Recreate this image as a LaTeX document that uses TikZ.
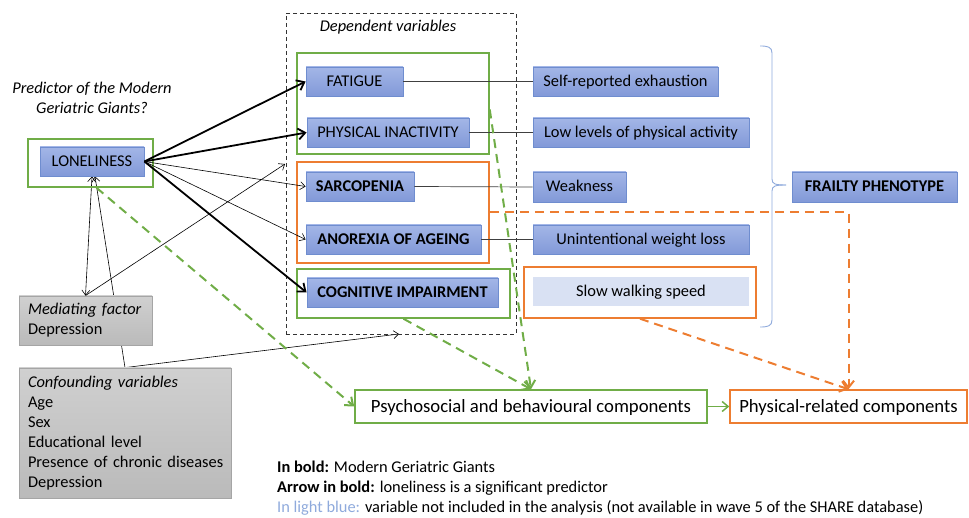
\documentclass[tikz,border=0pt]{standalone}
\usepackage{fontspec}
\setmainfont{Carlito}
\usetikzlibrary{arrows.meta,calc}
\pgfdeclarelayer{bg}
\pgfsetlayers{bg,main}
\definecolor{gr}{HTML}{70AD47}
\definecolor{orn}{HTML}{ED7D31}
\definecolor{bluetop}{HTML}{A3B6E7}
\definecolor{bluebot}{HTML}{8299D8}
\definecolor{bluedraw}{HTML}{6F8DCF}
\definecolor{lightb}{HTML}{D9E1F3}
\definecolor{legb}{HTML}{8FAADC}
\definecolor{graytop}{HTML}{D0D0D0}
\definecolor{graybot}{HTML}{BABABA}
\definecolor{graydraw}{HTML}{A5A5A5}
\definecolor{linkc}{HTML}{404040}
\tikzset{
  bluebox/.style={draw=bluedraw, line width=0.8pt, top color=bluetop, bottom color=bluebot, inner sep=0pt, text height=12pt, text depth=2pt},
  lbluebox/.style={fill=lightb, inner sep=0pt, text height=12pt, text depth=2pt},
  grframe/.style={draw=gr, line width=1.5pt, inner sep=0pt},
  orframe/.style={draw=orn, line width=1.5pt, inner sep=0pt},
  graybox/.style={draw=graydraw, line width=0.8pt, top color=graytop, bottom color=graybot, align=left, inner xsep=9pt, inner ysep=0pt},
  boldarr/.style={line width=1.8pt, -{Straight Barb[length=7pt,width=11pt]}},
  thinarr/.style={line width=0.6pt, ->},
  gdash/.style={draw=gr, line width=2pt, dash pattern=on 9pt off 6pt, -{Straight Barb[length=7pt,width=11pt]}},
  odash/.style={draw=orn, line width=2pt, dash pattern=on 9pt off 6pt, -{Straight Barb[length=7pt,width=11pt]}},
  link/.style={draw=linkc, line width=0.7pt},
  compbox/.style={line width=1.5pt, inner sep=0pt, minimum height=33pt, font=\fontsize{18.7}{22}\selectfont, text height=14pt, text depth=3pt},
}
\begin{document}
\begin{tikzpicture}[x=1pt,y=-1pt, font=\fontsize{16.4}{20}\selectfont, >={Straight Barb[length=5pt,width=8pt]}]
\useasboundingbox (0,0) rectangle (969,518);

% title
\node[align=center, inner sep=0pt] (pred) at (92,98) {\textit{Predictor of the Modern}\\\textit{Geriatric Giants?}};

% dependent variables frame
\node[draw=black!80, line width=0.8pt, dash pattern=on 4pt off 3pt, minimum width=230pt, minimum height=321pt, inner sep=0pt] (dep) at (401,173.5) {};
\node[inner sep=0pt] (deplab) at (388,27) {\textit{Dependent variables}};

% frames
\node[grframe, minimum width=125pt, minimum height=48pt] (lbox) at (90.5,163) {};
\node[grframe, minimum width=192pt, minimum height=101pt] (g1) at (393,103.5) {};
\node[orframe, minimum width=192pt, minimum height=101pt] (ob) at (393,212.5) {};
\node[grframe, minimum width=213pt, minimum height=49pt] (g3) at (403.5,293.5) {};
\node[orframe, minimum width=232pt, minimum height=51pt] (sb) at (640,292.5) {};

% blue nodes
\node[bluebox, minimum width=104pt, minimum height=29pt] (lon) at (92,161.5) {LONELINESS};
\node[bluebox, minimum width=97pt, minimum height=29pt] (fat) at (354.5,81.5) {FATIGUE};
\node[bluebox, minimum width=162pt, minimum height=29pt] (phys) at (388,132.5) {PHYSICAL INACTIVITY};
\node[bluebox, minimum width=108pt, minimum height=29pt] (sarc) at (360,186.5) {\textbf{SARCOPENIA}};
\node[bluebox, minimum width=175pt, minimum height=29pt] (anor) at (393.5,239.5) {\textbf{ANOREXIA OF AGEING}};
\node[bluebox, minimum width=191pt, minimum height=29pt] (cog) at (402.5,292.5) {\textbf{COGNITIVE IMPAIRMENT}};

\node[bluebox, minimum width=185pt, minimum height=29pt] (self) at (625.5,81.5) {Self-reported exhaustion};
\node[bluebox, minimum width=216pt, minimum height=29pt] (low) at (641,132.5) {Low levels of physical activity};
\node[bluebox, minimum width=93pt, minimum height=30pt] (weak) at (579.5,187) {Weakness};
\node[bluebox, minimum width=216pt, minimum height=29pt] (unint) at (641,239.5) {Unintentional weight loss};
\node[lbluebox, minimum width=216pt, minimum height=29pt] (slow) at (641,291.5) {Slow walking speed};
\node[bluebox, minimum width=165pt, minimum height=30pt] (frail) at (874.5,187) {\textbf{FRAILTY PHENOTYPE}};

% gray boxes
\node[graybox, minimum width=133pt, minimum height=49pt, text width=115pt] (med) at (85.5,320.5) {\textit{Mediating factor}\\Depression};
\node[graybox, minimum width=212pt, minimum height=130pt, text width=194pt] (conf) at (125,433) {\mbox{\textit{Confounding variables}}\\\mbox{Age}\\\mbox{Sex}\\\mbox{Educational level}\\\mbox{Presence of chronic diseases}\\\mbox{Depression}};

% components
\node[compbox, draw=gr, minimum width=352pt] (psy) at (531,406.5) {Psychosocial and behavioural components};
\node[compbox, draw=orn, minimum width=237pt] (phy) at (848.5,406.5) {Physical-related components};

% legend
\node[anchor=west, align=left, inner sep=0pt] (leg) at (277,488) {\textbf{In bold:} Modern Geriatric Giants\\\textbf{Arrow in bold:} loneliness is a significant predictor\\\textcolor{legb}{In light blue:} variable not included in the analysis (not available in wave 5 of the SHARE database)};

% coordinates
\coordinate (medTip) at (285,164);
\coordinate (depB) at (399,334);

% connectors behind boxes
\begin{pgfonlayer}{bg}
\draw[thinarr] (conf.north) -- ($(lon.south)+(3,0)$);
\draw[thinarr] (conf.north) -- (depB);
\draw[line width=0.6pt, <->] (lon.south) -- (med.north);
\end{pgfonlayer}
\draw[thinarr] (med.north) -- (medTip);

% loneliness arrows
\draw[boldarr] (lon.east) -- (fat.west);
\draw[boldarr] (lon.east) -- (phys.west);
\draw[thinarr] (lon.east) -- (sarc.west);
\draw[thinarr] (lon.east) -- (anor.west);
\draw[boldarr] (lon.east) -- (cog.west);

% links to frailty criteria
\draw[link] (fat.east) -- (self.west);
\draw[link] (phys.east) -- (low.west);
\draw[link] (sarc.east) -- (weak.west);
\draw[link] (anor.east) -- (unint.west);

% brace
\draw[legb, line width=0.9pt] (760,46) .. controls (768,46) and (772,47) .. (772,53) -- (772,179) .. controls (772,184) and (775,185) .. (786,185);
\draw[legb, line width=0.9pt] (786,185) .. controls (775,185) and (772,186) .. (772,191) -- (772,320) .. controls (772,326) and (768,327) .. (760,327);

% dashed component arrows
\draw[gdash] ($(lbox.south)+(6,0)$) -- (psy.west);
\draw[gdash] (g3.south) -- (psy.north);
\draw[gdash] ($(g1.east)+(0,6)$) -- (psy.north);
\draw[odash] (ob.east) -| (phy.north);
\draw[odash] (sb.south) -- (phy.north);
\draw[draw=gr, line width=1.5pt, -{Straight Barb[length=6pt,width=10pt]}] (psy.east) -- (phy.west);
\end{tikzpicture}
\end{document}
